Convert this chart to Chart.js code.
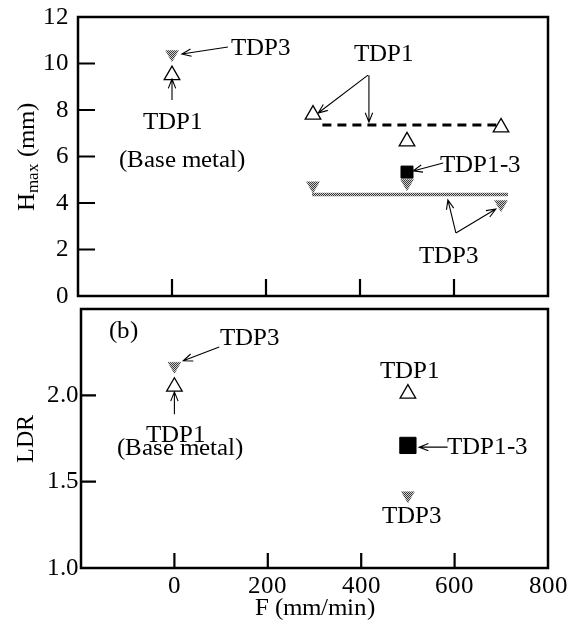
<!DOCTYPE html>
<html>
<head>
<meta charset="utf-8">
<script src="https://cdn.jsdelivr.net/npm/chart.js@4.4.1/dist/chart.umd.min.js"></script>
<style>
  @font-face { font-family: 'FigSerif'; src: local('Liberation Serif'), local('LiberationSerif'), local('Times New Roman'); }
  html,body{margin:0;padding:0;background:#fff;}
  #wrap{position:relative;width:580px;height:626px;font-family:FigSerif,'Liberation Serif',serif;}
  canvas{position:absolute;left:0;}
  #hmaxChart{top:0;}
  #ldrChart{top:300px;}
  #warm{position:absolute;left:0;top:0;color:#fff;font-size:4px;}
</style>
</head>
<body>
<div id="wrap">
  <span id="warm">TDP</span>
  <canvas id="hmaxChart" width="580" height="312"></canvas>
  <canvas id="ldrChart" width="580" height="326"></canvas>
</div>
<script>
// ---- data ----
// (a) Hmax (mm) vs feed rate F (mm/min)
const hmaxF_TDP1 = [0, 300, 500, 700];
const hmax_TDP1  = [9.5, 7.8, 6.65, 7.25];
const hmaxF_TDP3 = [0, 300, 500, 700];
const hmax_TDP3  = [10.4, 4.75, 4.85, 3.95];
const hmaxF_TDP13 = [500];
const hmax_TDP13  = [5.33];
const meanF_TDP1 = [320, 690];   // dashed average line
const mean_TDP1  = [7.35, 7.35];
const meanF_TDP3 = [298, 715];   // grey average line
const mean_TDP3  = [4.37, 4.37];

// (b) LDR vs F
const ldrF_TDP1 = [0, 500];
const ldr_TDP1  = [2.05, 2.01];
const ldrF_TDP3 = [0, 500];
const ldr_TDP3  = [2.17, 1.42];
const ldrF_TDP13 = [500];
const ldr_TDP13  = [1.71];

// axis ticks
const fTicks = [-200, 0, 200, 400, 600, 800];
const hmaxTicks = [0, 2, 4, 6, 8, 10, 12];
const ldrTicks = [1.0, 1.5, 2.0];

// annotations (in data units)
const hmaxLabels = [
  ['TDP3', 190, 10.65], ['TDP1', 2, 7.48], ['(Base metal)', 22, 5.85],
  ['TDP1', 450, 10.4], ['TDP1-3', 657, 5.63], ['TDP3', 589, 1.72]
];
const hmaxArrows = [
  [119, 10.71, 21, 10.41], [0, 8.43, 0, 9.33],
  [417, 9.5, 311, 7.87], [419, 9.5, 419, 7.48],
  [577, 5.72, 513, 5.38],
  [604, 2.71, 587, 4.13], [604, 2.71, 689, 3.74]
];
const ldrLabels = [
  ['(b)', -109, 2.37], ['TDP3', 162, 2.33], ['TDP1', 4, 1.77], ['(Base metal)', 11, 1.69],
  ['TDP1', 504, 2.14], ['TDP1-3', 671, 1.70], ['TDP3', 508, 1.30]
];
const ldrArrows = [
  [96, 2.28, 19, 2.20], [0, 1.89, 0, 2.02], [585, 1.70, 524, 1.70]
];

const FONT = 'FigSerif, "Liberation Serif", "Times New Roman", serif';

function halftone(){
  const c = document.createElement('canvas'); c.width = c.height = 2;
  const g = c.getContext('2d');
  g.fillStyle = '#cfcfcf'; g.fillRect(0,0,2,2);
  g.fillStyle = '#3a3a3a'; g.fillRect(0,0,1,1); g.fillRect(1,1,1,1);
  return g.createPattern(c, 'repeat');
}

const pts = (xs, ys) => xs.map((x,i)=>({x, y: ys[i]}));

// frame, inward ticks, arrows, labels
const panelDecor = {
  id: 'panelDecor',
  afterDatasetsDraw(chart, args, o){
    const {ctx, chartArea: a, scales: {x, y}} = chart;
    ctx.save();
    ctx.strokeStyle = '#000'; ctx.fillStyle = '#000';
    ctx.lineWidth = 2.5;
    ctx.strokeRect(a.left, a.top, a.right - a.left, a.bottom - a.top);
    ctx.lineWidth = 2.2;
    ctx.beginPath();
    x.ticks.forEach(t => { if (t.value > x.min && t.value < x.max){ const px = x.getPixelForValue(t.value); ctx.moveTo(px, a.bottom); ctx.lineTo(px, a.bottom - o.tickLen); } });
    y.ticks.forEach(t => { if (t.value > y.min && t.value < y.max){ const py = y.getPixelForValue(t.value); ctx.moveTo(a.left, py); ctx.lineTo(a.left + o.tickLen, py); } });
    ctx.stroke();

    ctx.lineWidth = 1.1;
    o.arrows.forEach(([f0, v0, f1, v1]) => {
      const x0 = x.getPixelForValue(f0), y0 = y.getPixelForValue(v0);
      const x1 = x.getPixelForValue(f1), y1 = y.getPixelForValue(v1);
      const ang = Math.atan2(y1 - y0, x1 - x0), L = 10, s = 0.38;
      ctx.beginPath();
      ctx.moveTo(x0, y0); ctx.lineTo(x1, y1);
      ctx.moveTo(x1 - L*Math.cos(ang - s), y1 - L*Math.sin(ang - s)); ctx.lineTo(x1, y1);
      ctx.lineTo(x1 - L*Math.cos(ang + s), y1 - L*Math.sin(ang + s));
      ctx.stroke();
    });

    ctx.font = '25px ' + FONT;
    ctx.textAlign = 'center'; ctx.textBaseline = 'middle';
    o.labels.forEach(([t, f, v]) => ctx.fillText(t, x.getPixelForValue(f), y.getPixelForValue(v)));

    if (o.hmaxTitle){
      // H with subscript "max", rotated
      ctx.translate(27, (a.top + a.bottom) / 2);
      ctx.rotate(-Math.PI/2);
      ctx.textAlign = 'left'; ctx.textBaseline = 'middle';
      const big = '25px ' + FONT, small = '17px ' + FONT;
      ctx.font = big; const wH = ctx.measureText('H').width, wR = ctx.measureText(' (mm)').width;
      ctx.font = small; const wS = ctx.measureText('max').width;
      let cx = -(wH + wS + wR) / 2;
      ctx.font = big; ctx.fillText('H', cx, 0); cx += wH;
      ctx.font = small; ctx.fillText('max', cx, 7); cx += wS;
      ctx.font = big; ctx.fillText(' (mm)', cx, 0);
    }
    ctx.restore();
  }
};

function makeCharts(){
  const grey = halftone();
  const triOpen = {pointStyle: 'triangle', pointRadius: 9, pointBackgroundColor: '#fff', pointBorderColor: '#000', pointBorderWidth: 1.3, showLine: false};
  const triGrey = {pointStyle: 'triangle', rotation: 180, pointRadius: 7.5, pointBackgroundColor: grey, pointBorderColor: grey, pointBorderWidth: 0.5, showLine: false};

  function xAxis(showLabels){
    return {
      type: 'linear', min: -200, max: 800, display: showLabels,
      afterBuildTicks: s => { s.ticks = fTicks.map(v => ({value: v})); },
      grid: {display: false, drawTicks: false}, border: {display: false},
      ticks: {color: '#000', font: {family: FONT, size: 25}, padding: 3, maxRotation: 0,
        callback: v => v === -200 ? '' : String(v)},
      title: {display: true, text: 'F (mm/min)', color: '#000', font: {family: FONT, size: 25}, padding: {top: 0, bottom: 3}},
      afterFit: s => { s.height = showLabels ? 58 : 0; s.paddingLeft = 0; s.paddingRight = 0; }
    };
  }
  const yFit = w => s => { s.width = w; s.paddingTop = 0; s.paddingBottom = 0; };

  new Chart(document.getElementById('hmaxChart'), {
    type: 'scatter',
    data: {datasets: [
      {label: 'TDP1-3', data: pts(hmaxF_TDP13, hmax_TDP13), pointStyle: 'rect', pointRadius: 8.5, pointBackgroundColor: '#000', pointBorderColor: '#000', showLine: false},
      {label: 'TDP1', data: pts(hmaxF_TDP1, hmax_TDP1), ...triOpen},
      {label: 'TDP3', data: pts(hmaxF_TDP3, hmax_TDP3), ...triGrey},
      {label: 'TDP1 mean', data: pts(meanF_TDP1, mean_TDP1), showLine: true, borderColor: '#000', borderWidth: 3, borderDash: [9, 6], pointRadius: 0},
      {label: 'TDP3 mean', data: pts(meanF_TDP3, mean_TDP3), showLine: true, borderColor: grey, borderWidth: 3.5, pointRadius: 0}
    ]},
    options: {
      responsive: false, animation: false, events: [],
      layout: {autoPadding: false, padding: {left: 0, top: 17, right: 32, bottom: 16}},
      plugins: {legend: {display: false}, tooltip: {enabled: false},
        panelDecor: {tickLen: 17, labels: hmaxLabels, arrows: hmaxArrows, hmaxTitle: true}},
      scales: {
        x: xAxis(false),
        y: {
          min: 0, max: 12,
          afterBuildTicks: s => { s.ticks = hmaxTicks.map(v => ({value: v})); },
          grid: {display: false, drawTicks: false}, border: {display: false},
          ticks: {color: '#000', font: {family: FONT, size: 25}, padding: 9},
          afterFit: yFit(78)
        }
      }
    },
    plugins: [panelDecor]
  });

  new Chart(document.getElementById('ldrChart'), {
    type: 'scatter',
    data: {datasets: [
      {label: 'TDP1-3', data: pts(ldrF_TDP13, ldr_TDP13), pointStyle: 'rect', pointRadius: 11.5, pointBackgroundColor: '#000', pointBorderColor: '#000', showLine: false},
      {label: 'TDP1', data: pts(ldrF_TDP1, ldr_TDP1), ...triOpen},
      {label: 'TDP3', data: pts(ldrF_TDP3, ldr_TDP3), ...triGrey}
    ]},
    options: {
      responsive: false, animation: false, events: [],
      layout: {autoPadding: false, padding: {left: 0, top: 9, right: 32, bottom: 0}},
      plugins: {legend: {display: false}, tooltip: {enabled: false},
        panelDecor: {tickLen: 15, labels: ldrLabels, arrows: ldrArrows}},
      scales: {
        x: xAxis(true),
        y: {
          min: 1.0, max: 2.5,
          afterBuildTicks: s => { s.ticks = ldrTicks.map(v => ({value: v})); },
          grid: {display: false, drawTicks: false}, border: {display: false},
          ticks: {color: '#000', font: {family: FONT, size: 25}, padding: 2, callback: v => v.toFixed(1)},
          title: {display: true, text: 'LDR', color: '#000', font: {family: FONT, size: 24}, padding: {top: 12, bottom: 0}},
          afterFit: yFit(81)
        }
      }
    },
    plugins: [panelDecor]
  });
}

// wait for the serif face so canvas text does not fall back to sans
let started = false;
function go(){ if (started) return; started = true; makeCharts(); }
document.fonts.load('25px FigSerif').then(go, go);
setTimeout(go, 1500);
</script>
</body>
</html>
